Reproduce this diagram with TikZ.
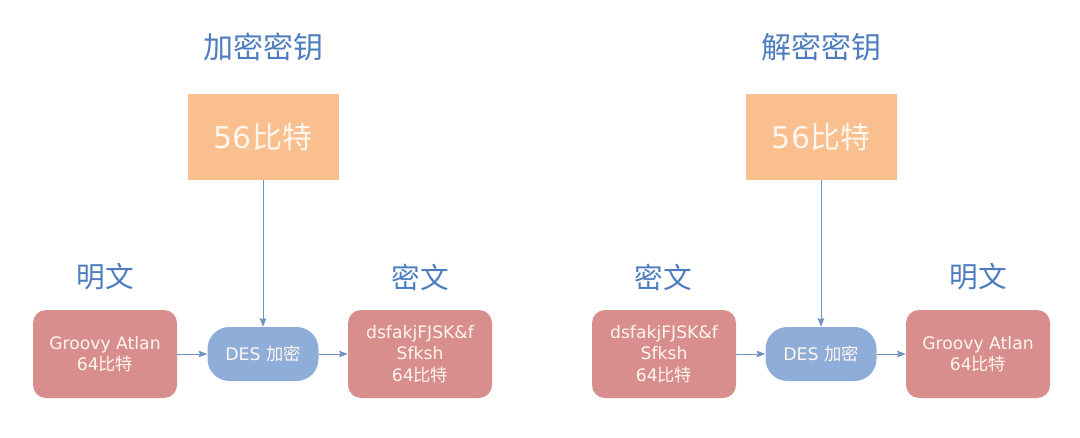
\documentclass[tikz,border=0pt]{standalone}
\usepackage{fontspec}
\setmainfont{DejaVu Sans}
\newfontfamily\zh{Noto Sans CJK SC}
\usetikzlibrary{arrows.meta,positioning}
\definecolor{keyFill}{HTML}{F9BF8F}
\definecolor{textFill}{HTML}{D98E8E}
\definecolor{desFill}{HTML}{8EADD9}
\definecolor{titleBlue}{HTML}{4E7DBF}
\definecolor{lineBlue}{HTML}{6F93C2}
\definecolor{boxText}{HTML}{FFF6EE}
\def\px{0.75pt}
\tikzset{keybox/.style={fill=keyFill,text=boxText,minimum width=151*\px,minimum height=86*\px,inner sep=0,font=\fontsize{22.5}{27}\selectfont}}
\tikzset{textbox/.style={fill=textFill,text=boxText,rounded corners=13*\px,minimum width=144*\px,minimum height=88*\px,inner sep=0,align=center,font=\fontsize{12.9}{16}\selectfont}}
\tikzset{despill/.style={fill=desFill,text=boxText,rounded corners=22*\px,minimum width=111*\px,minimum height=54*\px,inner sep=0,font=\fontsize{13}{16}\selectfont}}
\tikzset{heading/.style={text=titleBlue,inner sep=0,font=\zh\fontsize{21.5}{26}\selectfont}}
\tikzset{flow/.style={draw=lineBlue,line width=0.75pt,-{Stealth[length=6.5pt,width=5pt,inset=1pt]}}}
\begin{document}
\begin{tikzpicture}[x=\px,y=-\px]
\useasboundingbox (0,0) rectangle (1080,438);
% encryption
\node[heading,font=\zh\fontsize{22.5}{27}\selectfont] (encKeyTitle) at (263,47) {加密密钥};
\node[keybox] (encKey) at (263,137) {56{\zh 比特}};
\node[heading] (encInTitle) at (105,277) {明文};
\node[textbox] (encIn) at (105,354) {Groovy Atlan\\64{\zh 比特}};
\node[despill] (encDes) at (263,354) {DES {\zh 加密}};
\node[heading] (encOutTitle) at (420,277) {密文};
\node[textbox] (encOut) at (420,354) {dsfakjFJSK\&f\\Sfksh\\64{\zh 比特}};
\draw[flow] (encKey) -- (encDes);
\draw[flow] (encIn) -- (encDes);
\draw[flow] (encDes) -- (encOut);
% decryption
\node[heading,font=\zh\fontsize{22.5}{27}\selectfont] (decKeyTitle) at (821,47) {解密密钥};
\node[keybox] (decKey) at (821,137) {56{\zh 比特}};
\node[heading] (decInTitle) at (663,277) {密文};
\node[textbox] (decIn) at (664,354) {dsfakjFJSK\&f\\Sfksh\\64{\zh 比特}};
\node[despill] (decDes) at (821,354) {DES {\zh 加密}};
\node[heading] (decOutTitle) at (978,277) {明文};
\node[textbox] (decOut) at (978,354) {Groovy Atlan\\64{\zh 比特}};
\draw[flow] (decKey) -- (decDes);
\draw[flow] (decIn) -- (decDes);
\draw[flow] (decDes) -- (decOut);
\end{tikzpicture}
\end{document}
